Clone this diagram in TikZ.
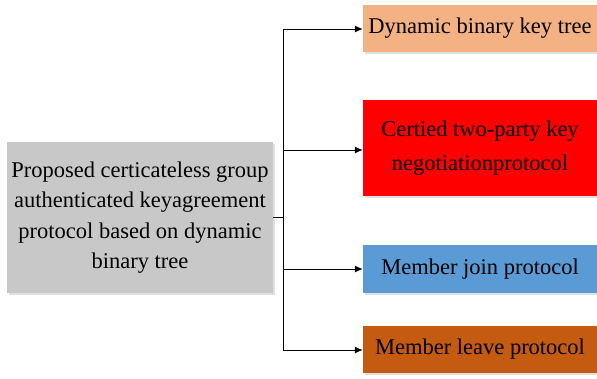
\documentclass[tikz,border=0pt]{standalone}
\usepackage{fontspec}
\setmainfont{Liberation Serif}
\usetikzlibrary{arrows.meta}
\definecolor{cgray}{RGB}{200,200,200}
\definecolor{cpeach}{RGB}{244,177,131}
\definecolor{cred}{RGB}{255,0,0}
\definecolor{cblue}{RGB}{91,155,213}
\definecolor{corange}{RGB}{197,90,17}
\tikzset{
  box/.style={rectangle, inner sep=0pt, align=center, font=\fontsize{22.5}{30.5}\selectfont, text=black},
  conn/.style={line width=1pt, draw=black},
  arr/.style={conn, -{Latex[length=8pt,width=7pt]}}
}
\begin{document}
\begin{tikzpicture}[x=1pt,y=-1pt]
\useasboundingbox (0,0) rectangle (597,378);
% shadows
\fill[black!12] (9,144) rectangle (275,295);
\fill[black!12] (365,7) rectangle (597,54);
\fill[black!12] (365,102) rectangle (597,198);
\fill[black!12] (365,247) rectangle (597,295);
\fill[black!12] (365,328) rectangle (597,375);
% boxes
\node[box, fill=cgray, minimum width=266pt, minimum height=151pt] (root) at (140,217.5)
  {Proposed certicateless group\\authenticated keyagreement\\protocol based on dynamic\\binary tree};
\node[box, fill=cpeach, minimum width=234pt, minimum height=47pt] (a) at (480,28.5) {Dynamic binary key tree};
\node[box, fill=cred, minimum width=234pt, minimum height=96pt, font=\fontsize{22.5}{34}\selectfont] (b) at (480,148) {Certied two-party key\\negotiationprotocol};
\node[box, fill=cblue, minimum width=234pt, minimum height=48pt] (c) at (480,269) {Member join protocol};
\node[box, fill=corange, minimum width=234pt, minimum height=47pt] (d) at (480,349.5) {Member leave protocol};
% connectors
\coordinate (j) at (283,217);
\coordinate (top) at (283,29);
\coordinate (bot) at (283,350);
\draw[conn] (root.east |- j) -- (j);
\draw[conn] (top) -- (bot);
\draw[arr] (top) -- (a.west |- top);
\draw[arr] (283,150) coordinate (jb) -- (b.west |- jb);
\draw[arr] (283,269) coordinate (jc) -- (c.west |- jc);
\draw[arr] (bot) -- (d.west |- bot);
\end{tikzpicture}
\end{document}
